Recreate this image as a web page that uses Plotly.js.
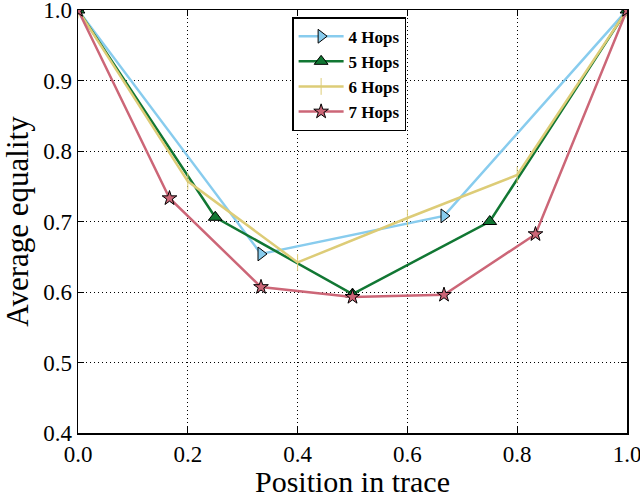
<!DOCTYPE html>
<html>
<head>
<meta charset="utf-8">
<script src="https://cdn.plot.ly/plotly-3.0.1.min.js"></script>
<style>html,body{margin:0;padding:0;background:#fff;}#chart{width:640px;height:498px;}</style>
</head>
<body>
<div id="chart"></div>
<script>
const seriesNames = ["4 Hops", "5 Hops", "6 Hops", "7 Hops"];
const x4 = [0, 1/3, 2/3, 1];
const y4 = [1.0, 0.654, 0.708, 1.0];
const x5 = [0, 0.25, 0.5, 0.75, 1];
const y5 = [1.0, 0.706, 0.597, 0.700, 1.0];
const x6 = [0, 0.2, 0.4, 0.6, 0.8, 1];
const y6 = [1.0, 0.757, 0.642, 0.705, 0.766, 1.0];
const x7 = [0, 1/6, 1/3, 1/2, 2/3, 5/6, 1];
const y7 = [1.0, 0.733, 0.607, 0.593, 0.596, 0.682, 1.0];
const xTicks = [0, 0.2, 0.4, 0.6, 0.8, 1.0];
const yTicks = [0.4, 0.5, 0.6, 0.7, 0.8, 0.9, 1.0];

const font = "Liberation Serif, DejaVu Serif, serif";
const traces = [
  {x: x4, y: y4, name: seriesNames[0], legendgroup: "g4", mode: "lines+markers",
   line: {color: "#88CCEE", width: 2.5},
   marker: {symbol: "triangle-right", size: 12, color: "#88CCEE", line: {color: "#000", width: 1}}},
  {x: x5, y: y5, name: seriesNames[1], legendgroup: "g5", mode: "lines+markers",
   line: {color: "#117733", width: 2.5},
   marker: {symbol: "triangle-up", size: 12, color: "#117733", line: {color: "#000", width: 1}}},
  {x: x6, y: y6, name: seriesNames[2], legendgroup: "g6", mode: "lines+markers",
   line: {color: "#DDCC77", width: 2.5},
   marker: {symbol: "line-ns-open", size: 12, color: "#DDCC77", line: {color: "#DDCC77", width: 1}}},
  {x: x7, y: y7, name: seriesNames[3], legendgroup: "g7", mode: "lines+markers",
   line: {color: "#CC6677", width: 2.5},
   marker: {symbol: "star", size: 11, color: "#CC6677", line: {color: "#000", width: 1}}}
];

const axisCommon = {
  showline: true, mirror: "ticks", linecolor: "#000", linewidth: 1.5,
  ticks: "inside", ticklen: 6, tickcolor: "#000", tickwidth: 1,
  showgrid: true, gridcolor: "#000", griddash: "1px,3px", gridwidth: 1,
  zeroline: false, tickfont: {size: 23, family: font, color: "#000"},
  ticklabeloverflow: "allow"
};

const layout = {
  width: 640, height: 498,
  margin: {l: 78, r: 13, t: 10, b: 65},
  paper_bgcolor: "#fff", plot_bgcolor: "#fff",
  font: {family: font, color: "#000", size: 17},
  showlegend: true,
  legend: {x: 0.39, y: 0.983, xanchor: "left", yanchor: "top",
    traceorder: "grouped", itemwidth: 45,
    bordercolor: "#000", borderwidth: 1.5, bgcolor: "#fff",
    font: {family: font, size: 17, weight: "bold"}, tracegroupgap: 0},
  xaxis: Object.assign({}, axisCommon, {
    range: [0, 1], tickvals: xTicks, ticktext: xTicks.map(v => v.toFixed(1)),
    title: {text: "Position in trace", font: {size: 30, family: font}, standoff: 2}}),
  yaxis: Object.assign({}, axisCommon, {
    range: [0.4, 1.0], tickvals: yTicks, ticktext: yTicks.map(v => v.toFixed(1)),
    title: {text: "Average equality", font: {size: 31, family: font}, standoff: 10}})
};

Plotly.newPlot("chart", traces, layout, {displayModeBar: false, staticPlot: true});
</script>
</body>
</html>
